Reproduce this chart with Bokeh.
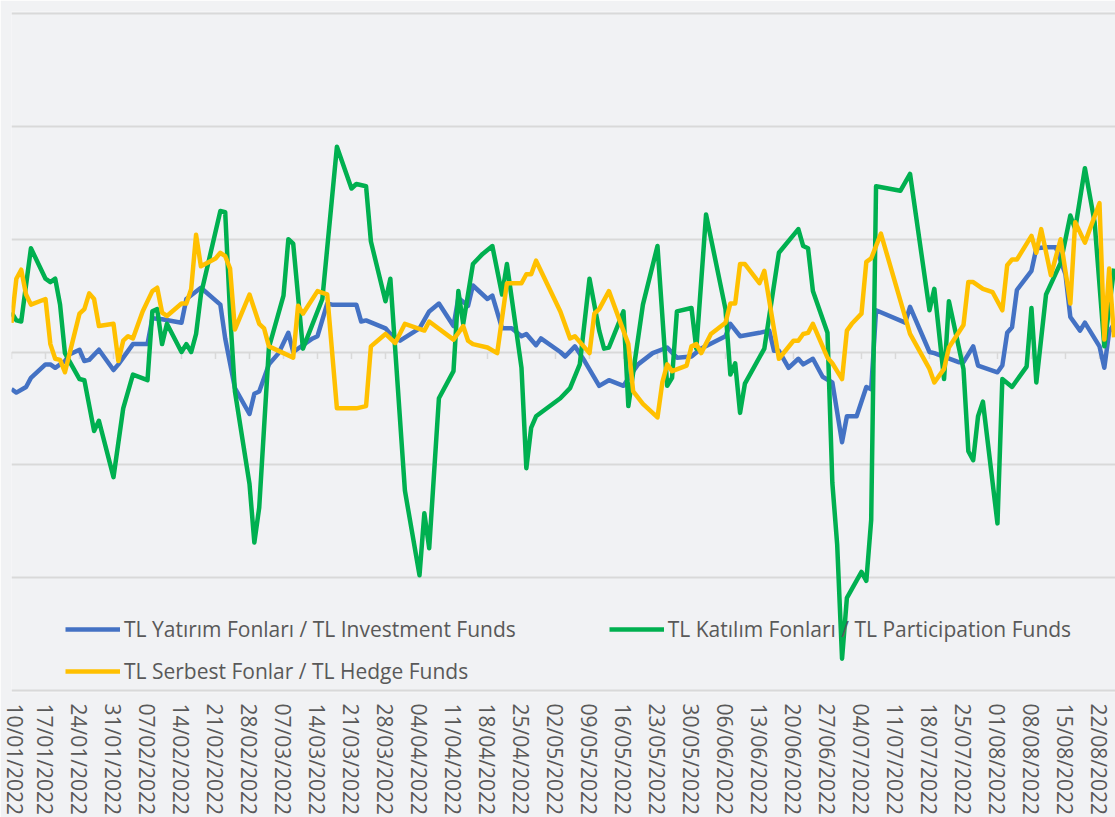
import pandas as pd
from bokeh.plotting import figure
from bokeh.models import (Range1d, FixedTicker, DatetimeTickFormatter, Legend,
                          LegendItem, Grid)
from bokeh.embed import file_html
from bokeh.resources import INLINE

# ---------------- data ----------------
tick_labels = ["10/01/2022", "17/01/2022", "24/01/2022", "31/01/2022", "07/02/2022",
               "14/02/2022", "21/02/2022", "28/02/2022", "07/03/2022", "14/03/2022",
               "21/03/2022", "28/03/2022", "04/04/2022", "11/04/2022", "18/04/2022",
               "25/04/2022", "02/05/2022", "09/05/2022", "16/05/2022", "23/05/2022",
               "30/05/2022", "06/06/2022", "13/06/2022", "20/06/2022", "27/06/2022",
               "04/07/2022", "11/07/2022", "18/07/2022", "25/07/2022", "01/08/2022",
               "08/08/2022", "15/08/2022", "22/08/2022"]

inv_label = "TL Yatırım Fonları / TL Investment Funds"
part_label = "TL Katılım Fonları / TL Participation Funds"
hedge_label = "TL Serbest Fonlar / TL Hedge Funds"

inv_dates = ["2022-01-10", "2022-01-11", "2022-01-13", "2022-01-14", "2022-01-17", "2022-01-18",
             "2022-01-19", "2022-01-21", "2022-01-22", "2022-01-24", "2022-01-25", "2022-01-26",
             "2022-01-28", "2022-01-31", "2022-02-01", "2022-02-04", "2022-02-07", "2022-02-08",
             "2022-02-10", "2022-02-14", "2022-02-15", "2022-02-18", "2022-02-22", "2022-02-23",
             "2022-02-25", "2022-02-28", "2022-03-01", "2022-03-02", "2022-03-04", "2022-03-06",
             "2022-03-08", "2022-03-09", "2022-03-13", "2022-03-14", "2022-03-16", "2022-03-17",
             "2022-03-22", "2022-03-23", "2022-03-24", "2022-03-28", "2022-03-29", "2022-03-31",
             "2022-04-04", "2022-04-06", "2022-04-08", "2022-04-11", "2022-04-12", "2022-04-14",
             "2022-04-15", "2022-04-18", "2022-04-19", "2022-04-21", "2022-04-23", "2022-04-25",
             "2022-04-26", "2022-04-28", "2022-04-29", "2022-05-03", "2022-05-04", "2022-05-06",
             "2022-05-08", "2022-05-11", "2022-05-13", "2022-05-16", "2022-05-18", "2022-05-19",
             "2022-05-22", "2022-05-25", "2022-05-27", "2022-05-30", "2022-06-01", "2022-06-06",
             "2022-06-07", "2022-06-09", "2022-06-13", "2022-06-15", "2022-06-16", "2022-06-17",
             "2022-06-19", "2022-06-21", "2022-06-22", "2022-06-24", "2022-06-26", "2022-06-28",
             "2022-06-30", "2022-07-01", "2022-07-03", "2022-07-05", "2022-07-06", "2022-07-07",
             "2022-07-13", "2022-07-14", "2022-07-18", "2022-07-19", "2022-07-24", "2022-07-25",
             "2022-07-27", "2022-07-28", "2022-08-01", "2022-08-02", "2022-08-03", "2022-08-04",
             "2022-08-05", "2022-08-08", "2022-08-09", "2022-08-11", "2022-08-13", "2022-08-15",
             "2022-08-16", "2022-08-18", "2022-08-19", "2022-08-22", "2022-08-23", "2022-08-24",
             "2022-08-25"]
inv_values = [-0.33, -0.36, -0.31, -0.23, -0.11, -0.11,
              -0.14, -0.08, -0.02, 0.02, -0.08, -0.07,
              0.02, -0.16, -0.11, 0.07, 0.07, 0.30,
              0.29, 0.26, 0.47, 0.57, 0.42, 0.12,
              -0.32, -0.55, -0.37, -0.35, -0.11, -0.01,
              0.17, 0.00, 0.12, 0.14, 0.43, 0.42,
              0.42, 0.27, 0.28, 0.21, 0.16, 0.10,
              0.21, 0.36, 0.43, 0.23, 0.48, 0.41,
              0.59, 0.47, 0.50, 0.21, 0.21, 0.14,
              0.16, 0.06, 0.12, 0.00, -0.04, 0.05,
              -0.08, -0.30, -0.25, -0.30, -0.17, -0.11,
              -0.01, 0.04, -0.05, -0.04, 0.03, 0.14,
              0.25, 0.14, 0.17, 0.19, 0.01, 0.01,
              -0.14, -0.06, -0.11, -0.06, -0.22, -0.27,
              -0.80, -0.57, -0.57, -0.31, -0.33, 0.37,
              0.26, 0.40, 0.00, -0.01, -0.09, -0.09,
              0.05, -0.12, -0.18, -0.12, 0.17, 0.22,
              0.55, 0.72, 0.92, 0.93, 0.93, 0.69,
              0.31, 0.19, 0.26, 0.05, -0.14, 0.18,
              0.25]

part_dates = ["2022-01-10", "2022-01-11", "2022-01-12", "2022-01-14", "2022-01-17", "2022-01-18",
              "2022-01-19", "2022-01-20", "2022-01-21", "2022-01-24", "2022-01-25", "2022-01-27",
              "2022-01-28", "2022-01-31", "2022-02-02", "2022-02-04", "2022-02-07", "2022-02-08",
              "2022-02-09", "2022-02-10", "2022-02-11", "2022-02-14", "2022-02-15", "2022-02-16",
              "2022-02-17", "2022-02-18", "2022-02-22", "2022-02-23", "2022-02-24", "2022-02-25",
              "2022-02-28", "2022-03-01", "2022-03-02", "2022-03-04", "2022-03-07", "2022-03-08",
              "2022-03-09", "2022-03-11", "2022-03-15", "2022-03-18", "2022-03-21", "2022-03-22",
              "2022-03-24", "2022-03-25", "2022-03-28", "2022-03-29", "2022-04-01", "2022-04-04",
              "2022-04-05", "2022-04-06", "2022-04-08", "2022-04-11", "2022-04-12", "2022-04-13",
              "2022-04-15", "2022-04-17", "2022-04-19", "2022-04-21", "2022-04-22", "2022-04-25",
              "2022-04-26", "2022-04-27", "2022-04-28", "2022-05-03", "2022-05-05", "2022-05-07",
              "2022-05-09", "2022-05-11", "2022-05-12", "2022-05-13", "2022-05-16", "2022-05-17",
              "2022-05-20", "2022-05-23", "2022-05-25", "2022-05-26", "2022-05-27", "2022-05-30",
              "2022-05-31", "2022-06-02", "2022-06-06", "2022-06-07", "2022-06-08", "2022-06-09",
              "2022-06-10", "2022-06-14", "2022-06-17", "2022-06-21", "2022-06-22", "2022-06-23",
              "2022-06-24", "2022-06-27", "2022-06-28", "2022-06-29", "2022-06-30", "2022-07-01",
              "2022-07-04", "2022-07-05", "2022-07-06", "2022-07-07", "2022-07-12", "2022-07-14",
              "2022-07-18", "2022-07-19", "2022-07-21", "2022-07-22", "2022-07-25", "2022-07-26",
              "2022-07-27", "2022-07-28", "2022-07-29", "2022-08-01", "2022-08-02", "2022-08-04",
              "2022-08-07", "2022-08-08", "2022-08-09", "2022-08-11", "2022-08-14", "2022-08-16",
              "2022-08-17", "2022-08-19", "2022-08-21", "2022-08-23", "2022-08-25"]
part_values = [0.35, 0.28, 0.27, 0.92, 0.65, 0.62,
               0.65, 0.42, -0.01, -0.24, -0.25, -0.70,
               -0.61, -1.11, -0.50, -0.20, -0.25, 0.36,
               0.38, 0.07, 0.25, 0.00, 0.07, 0.00,
               0.16, 0.51, 1.25, 1.24, 0.34, -0.35,
               -1.17, -1.69, -1.38, 0.04, 0.50, 1.00,
               0.96, 0.03, 0.47, 1.82, 1.45, 1.49,
               1.47, 0.98, 0.45, 0.65, -1.23, -1.98,
               -1.43, -1.74, -0.41, -0.17, 0.54, 0.25,
               0.78, 0.87, 0.94, 0.51, 0.78, -0.14,
               -1.03, -0.67, -0.57, -0.41, -0.32, -0.11,
               0.65, 0.19, 0.03, 0.04, 0.36, -0.48,
               0.42, 0.94, -0.30, -0.23, 0.36, 0.39,
               0.03, 1.22, 0.38, -0.20, -0.10, -0.54,
               -0.28, 0.03, 0.88, 1.09, 0.94, 0.92,
               0.54, 0.17, -1.16, -1.71, -2.72, -2.18,
               -1.95, -2.03, -1.49, 1.47, 1.43, 1.58,
               0.37, 0.56, -0.24, 0.45, -0.15, -0.88,
               -0.96, -0.57, -0.44, -1.52, -0.24, -0.31,
               -0.13, 0.39, -0.27, 0.51, 0.79, 1.21,
               1.09, 1.63, 1.15, 0.05, 0.74]

hedge_dates = ["2022-01-10", "2022-01-11", "2022-01-12", "2022-01-13", "2022-01-14", "2022-01-17",
               "2022-01-18", "2022-01-19", "2022-01-20", "2022-01-21", "2022-01-24", "2022-01-25",
               "2022-01-26", "2022-01-27", "2022-01-28", "2022-01-31", "2022-02-01", "2022-02-02",
               "2022-02-03", "2022-02-04", "2022-02-06", "2022-02-08", "2022-02-09", "2022-02-10",
               "2022-02-11", "2022-02-14", "2022-02-15", "2022-02-16", "2022-02-17", "2022-02-18",
               "2022-02-21", "2022-02-22", "2022-02-23", "2022-02-24", "2022-02-25", "2022-02-28",
               "2022-03-02", "2022-03-03", "2022-03-04", "2022-03-08", "2022-03-09", "2022-03-10",
               "2022-03-11", "2022-03-14", "2022-03-16", "2022-03-18", "2022-03-22", "2022-03-24",
               "2022-03-25", "2022-03-28", "2022-03-30", "2022-04-01", "2022-04-05", "2022-04-06",
               "2022-04-11", "2022-04-13", "2022-04-14", "2022-04-15", "2022-04-18", "2022-04-20",
               "2022-04-22", "2022-04-25", "2022-04-26", "2022-04-27", "2022-04-28", "2022-05-03",
               "2022-05-05", "2022-05-06", "2022-05-09", "2022-05-10", "2022-05-11", "2022-05-13",
               "2022-05-17", "2022-05-18", "2022-05-20", "2022-05-23", "2022-05-24", "2022-05-25",
               "2022-05-26", "2022-05-29", "2022-05-30", "2022-05-31", "2022-06-01", "2022-06-03",
               "2022-06-06", "2022-06-07", "2022-06-08", "2022-06-09", "2022-06-10", "2022-06-13",
               "2022-06-14", "2022-06-17", "2022-06-20", "2022-06-21", "2022-06-22", "2022-06-23",
               "2022-06-24", "2022-06-27", "2022-06-28", "2022-06-30", "2022-07-01", "2022-07-02",
               "2022-07-04", "2022-07-05", "2022-07-06", "2022-07-08", "2022-07-14", "2022-07-18",
               "2022-07-19", "2022-07-21", "2022-07-22", "2022-07-25", "2022-07-26", "2022-07-27",
               "2022-07-29", "2022-07-31", "2022-08-02", "2022-08-03", "2022-08-04", "2022-08-05",
               "2022-08-08", "2022-08-09", "2022-08-10", "2022-08-12", "2022-08-14", "2022-08-16",
               "2022-08-17", "2022-08-19", "2022-08-22", "2022-08-23", "2022-08-24", "2022-08-25"]
hedge_values = [0.26, 0.65, 0.73, 0.51, 0.42, 0.47,
                0.07, -0.06, -0.07, -0.18, 0.34, 0.38,
                0.52, 0.47, 0.23, 0.25, -0.08, 0.10,
                0.14, 0.12, 0.36, 0.54, 0.57, 0.35,
                0.32, 0.43, 0.43, 0.56, 1.04, 0.76,
                0.83, 0.88, 0.85, 0.74, 0.20, 0.51,
                0.25, 0.21, 0.05, -0.03, -0.05, 0.41,
                0.34, 0.54, 0.51, -0.50, -0.50, -0.48,
                0.05, 0.16, 0.08, 0.25, 0.19, 0.27,
                0.11, 0.23, 0.10, 0.07, 0.04, -0.01,
                0.61, 0.61, 0.69, 0.69, 0.81, 0.36,
                0.12, 0.14, -0.01, 0.34, 0.38, 0.54,
                0.07, -0.35, -0.46, -0.58, -0.27, -0.11,
                -0.17, -0.12, 0.05, 0.07, -0.01, 0.16,
                0.26, 0.43, 0.43, 0.78, 0.78, 0.61,
                0.72, -0.06, 0.10, 0.10, 0.16, 0.17,
                0.25, -0.05, -0.10, -0.24, 0.19, 0.25,
                0.34, 0.80, 0.83, 1.05, 0.16, -0.15,
                -0.27, -0.15, 0.04, 0.24, 0.62, 0.62,
                0.56, 0.53, 0.37, 0.77, 0.82, 0.82,
                1.03, 0.88, 1.09, 0.68, 1.00, 0.43,
                1.15, 0.97, 1.32, 0.11, 0.74, 0.13]

grid_values = [-3, -2, -1, 0, 1, 2, 3]

# ---------------- styling ----------------
FONT = "Open Sans"
TEXT = "#595959"
BG = "#f1f2f4"
GRID = "#d9d9d9"
C_INV, C_PART, C_HEDGE = "#4472C4", "#00B050", "#FFC000"

ticks_dt = pd.to_datetime(tick_labels, format="%d/%m/%Y")
tick_ms = [t.value // 10**6 for t in ticks_dt]

start = ticks_dt[0]
end = start + pd.Timedelta(days=227.3)

p = figure(width=1115, height=817, x_axis_type="datetime", y_axis_location=None,
           x_range=Range1d(start.to_pydatetime(), end.to_pydatetime()),
           y_range=Range1d(-3.02, 3.02),
           output_backend="svg", toolbar_location=None,
           min_border_left=11, min_border_right=0, min_border_top=11, min_border_bottom=125,
           background_fill_color=BG, border_fill_color=BG, outline_line_color=None)

p.grid.visible = False
p.add_layout(Grid(dimension=1, ticker=FixedTicker(ticks=grid_values),
                  grid_line_color=GRID, grid_line_width=2))

ax = p.xaxis[0]
ax.ticker = FixedTicker(ticks=tick_ms)
fmt = "%d/%m/%Y"
ax.formatter = DatetimeTickFormatter(milliseconds=fmt, seconds=fmt, minsec=fmt, minutes=fmt,
                                     hourmin=fmt, hours=fmt, days=fmt, months=fmt, years=fmt)
ax.major_label_orientation = "vertical"
ax.axis_line_color = None
ax.major_tick_line_color = None
ax.minor_tick_line_color = None
ax.major_label_text_font = FONT
ax.major_label_text_font_size = "21px"
ax.major_label_text_color = TEXT
ax.major_label_standoff = 5

# tick marks on the zero line (category axis of the source chart)
p.segment(x0=list(ticks_dt), y0=[0] * len(ticks_dt), x1=list(ticks_dt),
          y1=[-0.062] * len(ticks_dt), line_color=GRID, line_width=1.5)

r_inv = p.line(pd.to_datetime(inv_dates), inv_values, line_color=C_INV, line_width=4.5,
               line_join="round")
r_part = p.line(pd.to_datetime(part_dates), part_values, line_color=C_PART, line_width=4.5,
                line_join="round")
r_hedge = p.line(pd.to_datetime(hedge_dates), hedge_values, line_color=C_HEDGE, line_width=4.5,
                 line_join="round")


def style_legend(lg):
    lg.background_fill_alpha = 0
    lg.border_line_color = None
    lg.padding = 0
    lg.margin = 0
    lg.glyph_width = 55
    lg.glyph_height = 20
    lg.label_height = 20
    lg.label_standoff = 4
    lg.label_text_font = FONT
    lg.label_text_font_size = "21px"
    lg.label_text_color = TEXT


leg1 = Legend(items=[LegendItem(label=inv_label, renderers=[r_inv]),
                     LegendItem(label=part_label, renderers=[r_part])],
              orientation="horizontal", location=(54, 49), spacing=93)
leg2 = Legend(items=[LegendItem(label=hedge_label, renderers=[r_hedge])],
              orientation="horizontal", location=(54, 7))
style_legend(leg1)
style_legend(leg2)
p.add_layout(leg1)
p.add_layout(leg2)

open("out.html", "w").write(file_html(p, INLINE))
